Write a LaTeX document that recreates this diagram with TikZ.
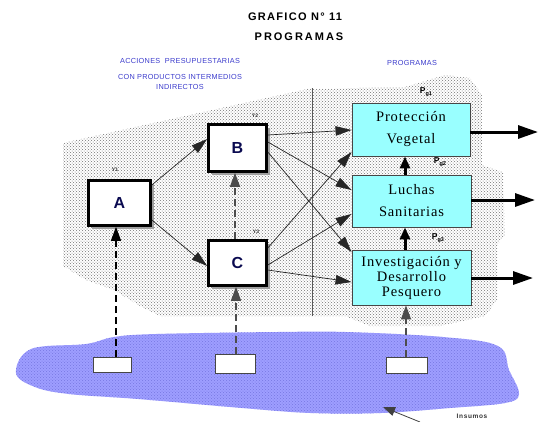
\documentclass[tikz,border=0pt]{standalone}
\usepackage{fontspec}
\setmainfont{Liberation Serif}
\newfontfamily\arialfont{Liberation Sans}
\usetikzlibrary{patterns,shadows,arrows.meta}

\definecolor{boxcyan}{RGB}{153,255,255}
\definecolor{lakeblue}{RGB}{158,158,255}
\definecolor{lakedot}{RGB}{118,118,225}
\definecolor{labelblue}{RGB}{60,60,205}
\definecolor{navy}{RGB}{10,10,80}
\definecolor{edgegray}{RGB}{70,70,70}

\begin{document}
\begin{tikzpicture}[x=1pt,y=-1pt,
  actbox/.style={draw=black, line width=2.6pt, fill=white,
    drop shadow={shadow xshift=3pt, shadow yshift=-3pt, fill=gray!75, opacity=1},
    font=\arialfont\bfseries\fontsize{16}{16}\selectfont, text=navy, inner sep=0pt},
  progbox/.style={draw=edgegray, line width=0.9pt, fill=boxcyan, align=center, inner sep=0pt},
  inbox/.style={draw=edgegray, line width=0.8pt, fill=white, inner sep=0pt},
  link/.style={draw=black!85, line width=0.7pt, -{Triangle[length=16pt,width=9.5pt]}},
  dashlink/.style={line width=1.2pt, dash pattern=on 7pt off 4pt, -{Triangle[length=14pt,width=10pt]}},
  outarrow/.style={line width=3pt, -{Triangle[length=20pt,width=13pt]}},
  uparrow/.style={line width=3pt, -{Triangle[length=12pt,width=10pt]}},
  titletext/.style={font=\arialfont\bfseries\fontsize{11}{11}\selectfont\addfontfeature{LetterSpace=12}, inner sep=0pt},
  bluetext/.style={font=\arialfont\fontsize{7.3}{7.3}\selectfont\addfontfeature{LetterSpace=4}, text=labelblue, inner sep=0pt},
  ylab/.style={font=\arialfont\bfseries\fontsize{5}{5}\selectfont, text=black!80, inner sep=0pt},
  pglab/.style={font=\arialfont\bfseries\fontsize{8.5}{8.5}\selectfont, inner sep=0pt},
  dotted area/.style={pattern=crosshatch dots, pattern color=black!55}
]
\useasboundingbox (0,0) rectangle (540,421);
\fill[white] (0,0) rectangle (540,421);

% dotted backdrop behind the two groups
\path[dotted area] (63,143) -- (312,88) -- (312,316) -- (160,316) -- (140,306)
  -- (114,290) -- (86,280) -- (63,266) -- cycle;
\path[dotted area] (312,89) -- (405,87) -- (445,75) -- (470,78) -- (482,95)
  -- (482,165) -- (503,172) -- (505,235) -- (497,245) -- (497,300) -- (485,316)
  -- (440,326) -- (370,326) -- (345,316) -- (312,316) -- cycle;

% the blue area of inputs
\path[pattern=crosshatch dots, pattern color=lakedot, preaction={fill=lakeblue}]
  plot[smooth cycle, tension=.6] coordinates {(31,349) (86,344) (114,337) (156,334)
  (277,332) (346,332) (443,337) (498,346) (509,370) (519,394) (505,403) (450,408)
  (381,413) (311,413) (242,408) (138,399) (69,394) (35,387) (16,373)};

% divider between actions and programmes
\coordinate (divtop) at (312,88);
\coordinate (divbot) at (312,316);
\draw[black!65, line width=0.9pt] (divtop) -- (divbot);

% titles
\node[titletext] (t1) at (295,17) {GRAFICO N° 11};
\node[titletext, font=\arialfont\bfseries\fontsize{11}{11}\selectfont\addfontfeature{LetterSpace=18}] (t2) at (299,37) {PROGRAMAS};
\node[bluetext] (l1) at (180,61) {ACCIONES\ \ PRESUPUESTARIAS};
\node[bluetext] (l2) at (180,77) {CON PRODUCTOS INTERMEDIOS};
\node[bluetext] (l3) at (180,87) {INDIRECTOS};
\node[bluetext] (l4) at (412,63) {PROGRAMAS};

% budget actions
\node[actbox, minimum width=62pt, minimum height=45pt] (A) at (119.5,203) {A};
\node[actbox, minimum width=58pt, minimum height=47pt] (B) at (237.5,148) {B};
\node[actbox, minimum width=58pt, minimum height=45pt] (C) at (237.5,263) {C};
\node[ylab] (y1) at (115,170) {Y1};
\node[ylab] (y2) at (255,116) {Y2};
\node[ylab] (y3) at (256,232) {Y3};

% programmes
\node[progbox, minimum width=118pt, minimum height=53pt,
  font=\fontsize{14.5}{22}\selectfont\addfontfeature{LetterSpace=6}]
  (Prot) at (411,129.5) {Protección\\Vegetal};
\node[progbox, minimum width=119pt, minimum height=52pt,
  font=\fontsize{14.5}{22}\selectfont\addfontfeature{LetterSpace=6}]
  (Luchas) at (411.5,201) {Luchas\\Sanitarias};
\node[progbox, minimum width=119pt, minimum height=55pt,
  font=\fontsize{14.5}{15}\selectfont\addfontfeature{LetterSpace=6}]
  (Inv) at (411.5,277.5) {Investigación y\\Desarrollo\\Pesquero};
\node[pglab] (pg1) at (426,92) {P\raisebox{-1.5pt}{\fontsize{5.5}{5.5}\selectfont g1}};
\node[pglab] (pg2) at (440,162) {P\raisebox{-1.5pt}{\fontsize{5.5}{5.5}\selectfont g2}};
\node[pglab] (pg3) at (438,238) {P\raisebox{-1.5pt}{\fontsize{5.5}{5.5}\selectfont g3}};

% input boxes
\node[inbox, minimum width=38pt, minimum height=15pt] (r1) at (112,364.5) {};
\node[inbox, minimum width=40pt, minimum height=19pt] (r2) at (235,363.5) {};
\node[inbox, minimum width=41pt, minimum height=16pt] (r3) at (406.5,365) {};

% links between actions
\draw[link] (A.east |- 0,185) -- (B.west |- 0,139);
\draw[link] (A.east |- 0,220) -- (C.west |- 0,266);
\draw[dashlink, draw=black!70] (C.north -| 235,0) -- (B.south -| 235,0);

% links from actions to programmes
\draw[link] (B.east |- 0,135) -- (Prot.west |- 0,130);
\draw[link] (B.east |- 0,142) -- (Luchas.west |- 0,190);
\draw[link] (B.east |- 0,152) -- (Inv.west |- 0,252);
\draw[link] (C.east |- 0,248) -- (Prot.west |- 0,152);
\draw[link] (C.east |- 0,265) -- (Luchas.west |- 0,214);
\draw[link] (C.east |- 0,270) -- (Inv.west |- 0,282);

% links between programmes
\coordinate (vx) at (405,0);
\draw[uparrow] (Luchas.north -| vx) -- (Prot.south -| vx);
\draw[uparrow] (Inv.north -| vx) -- (Luchas.south -| vx);

% outputs
\coordinate (o1) at (538,132);
\coordinate (o2) at (535,200);
\coordinate (o3) at (533,278);
\draw[outarrow] (Prot.east |- o1) -- (o1);
\draw[outarrow] (Luchas.east |- o2) -- (o2);
\draw[outarrow] (Inv.east |- o3) -- (o3);

% inputs
\draw[dashlink, draw=black] (r1.north -| 116,0) -- (A.south -| 116,0);
\draw[dashlink, draw=black!70] (r2.north -| 236,0) -- (C.south -| 236,0);
\draw[dashlink, draw=black!70] (r3.north -| 406,0) -- (Inv.south -| 406,0);

% inputs label
\node[font=\arialfont\bfseries\fontsize{6.5}{6.5}\selectfont\addfontfeature{LetterSpace=10}, text=black!80, inner sep=0pt]
  (ins) at (472,416) {Insumos};
\coordinate (itail) at (420,422);
\coordinate (itip) at (383,407);
\draw[black!75, line width=0.8pt, -{Triangle[length=12pt,width=9pt]}] (itail) -- (itip);
\end{tikzpicture}
\end{document}
